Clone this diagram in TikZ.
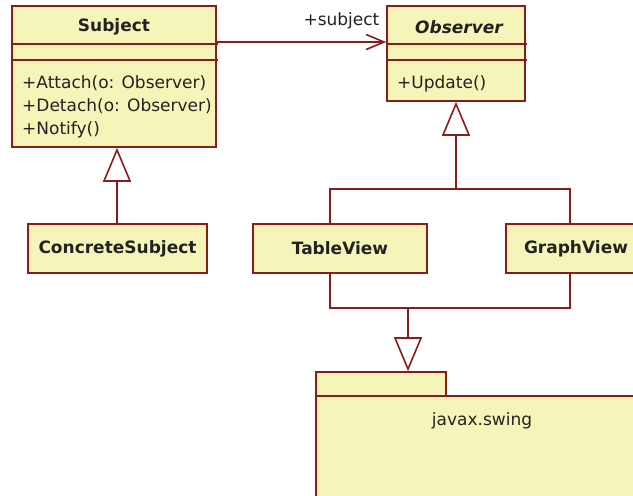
\documentclass[tikz,border=0pt]{standalone}
\usepackage{fontspec}
\setmainfont{DejaVu Sans}
\usepackage{tikz}
\usetikzlibrary{positioning}
\usetikzlibrary{arrows.meta}

\definecolor{umlline}{HTML}{8B1C1C}
\definecolor{umlfill}{HTML}{F5F5B9}
\definecolor{umltext}{HTML}{222222}

\tikzset{
  classbox/.style={draw=umlline, fill=umlfill, line width=1.6pt, inner sep=0pt},
  classname/.style={text=umltext, font=\fontsize{17}{23}\selectfont\bfseries},
  members/.style={text=umltext, font=\fontsize{17}{23}\selectfont, align=left, inner sep=0pt},
  conn/.style={draw=umlline, line width=1.6pt},
  gen/.style={conn, -{Triangle[open, length=34pt, width=28pt, fill=white]}},
  assoc/.style={conn, -{Straight Barb[length=18pt, width=15pt]}}
}

\begin{document}
\begin{tikzpicture}[x=1pt, y=-1pt]
  \useasboundingbox (0,0) rectangle (633,496);
  \clip (0,0) rectangle (633,496);

  % Subject class
  \node[classbox, minimum width=204pt, minimum height=141pt] (subject) at (114,76.5) {};
  \node[classname] (subjectname) at (114,27) {Subject};
  \draw[conn] (12,44) -- (218,44);
  \draw[conn] (12,60) -- (218,60);
  \node[members, anchor=north west] (subjectops) at (22,75) {+Attach(o: Observer)\\+Detach(o: Observer)\\+Notify()};

  % Observer class
  \node[classbox, minimum width=138pt, minimum height=95pt] (observer) at (456,53.5) {};
  \node[classname, font=\fontsize{17}{23}\selectfont\bfseries\itshape] (observername) at (459,27) {Observer};
  \draw[conn] (387,44) -- (527,44);
  \draw[conn] (387,60) -- (527,60);
  \node[members, anchor=north west] (observerops) at (397,75) {+Update()};

  % concrete classes
  \node[classbox, classname, minimum width=179pt, minimum height=49pt] (concrete) at (117.5,248.5) {ConcreteSubject};
  \node[classbox, classname, minimum width=174pt, minimum height=49pt] (tableview) at (340,248.5) {TableView};
  \node[classbox, classname, minimum width=140pt, minimum height=49pt] (graphview) at (576,248.5) {GraphView};

  % package
  \node[classbox, minimum width=130pt, minimum height=24pt] (swingtab) at (381,384) {};
  \node[classbox, minimum width=344pt, minimum height=104pt] (swing) at (488,448) {};
  \node[members] (swinglabel) at (482,421) {javax.swing};

  % connectors
  \coordinate (assocy) at (0,42);
  \draw[assoc] (subject.east |- assocy) -- (observer.west |- assocy)
    node[pos=1, members, anchor=south east, xshift=-6pt, yshift=12pt] (subjectrole) {+subject};

  \draw[gen] ([xshift=-0.5pt]concrete.north) -- ([xshift=-0.5pt]concrete.north |- subject.south);

  \coordinate (obsfork) at (456,189);
  \draw[conn] ([xshift=-10pt]tableview.north) |- (obsfork) -| ([xshift=-6pt]graphview.north);
  \draw[gen] (obsfork) -- (observer.south);

  \coordinate (swingjoin) at (408,308);
  \draw[conn] ([xshift=-10pt]tableview.south) |- (swingjoin) -| ([xshift=-6pt]graphview.south);
  \draw[gen] (swingjoin) -- (swingjoin |- swingtab.north);

\end{tikzpicture}
\end{document}
